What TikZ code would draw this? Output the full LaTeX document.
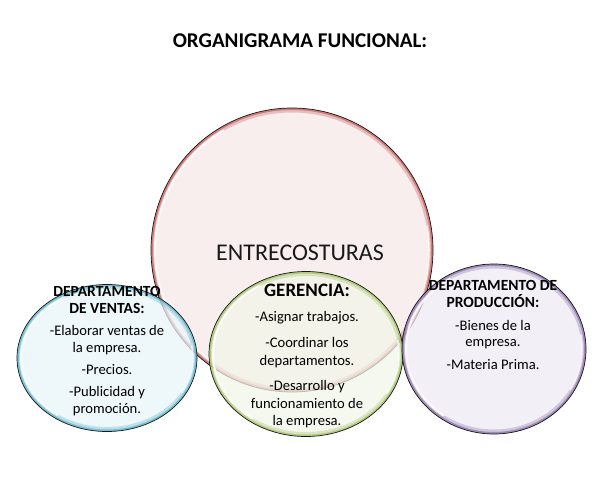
\documentclass[tikz,border=0pt]{standalone}
\usepackage{fontspec}
\setmainfont{Carlito}
\usetikzlibrary{shapes.geometric, calc}
\definecolor{rojo}{HTML}{C0504D}
\definecolor{azul}{HTML}{4BACC6}
\definecolor{verde}{HTML}{9BBB59}
\definecolor{morado}{HTML}{8064A2}
\tikzset{
bubble/.style={ellipse, inner sep=0pt, draw=black!90, line width=0.7pt, fill=#1!13, fill opacity=0.72,
  path picture={
    \draw[#1, line width=9pt, draw opacity=0.3] let \p1=(path picture bounding box.north east), \p2=(path picture bounding box.center) in (\p2) ellipse ({\x1-\x2} and {\y1-\y2});
    \draw[#1, line width=4pt, draw opacity=0.6] let \p1=(path picture bounding box.north east), \p2=(path picture bounding box.center) in (\p2) ellipse ({\x1-\x2} and {\y1-\y2});
    \draw[white, line width=2pt, draw opacity=0.9, line cap=round] let \p1=(path picture bounding box.north east), \p2=(path picture bounding box.center), \n1={(\x1-\x2)-4pt}, \n2={(\y1-\y2)-4pt} in (\p2) ++(120:\n1 and \n2) arc[start angle=120, end angle=235, x radius=\n1, y radius=\n2];
    \draw[white, line width=1.5pt, draw opacity=0.8, line cap=round] let \p1=(path picture bounding box.north east), \p2=(path picture bounding box.center), \n1={(\x1-\x2)-4pt}, \n2={(\y1-\y2)-4pt} in (\p2) ++(-30:\n1 and \n2) arc[start angle=-30, end angle=10, x radius=\n1, y radius=\n2];
  }}, % circle with coloured rim
txt/.style={align=center, text=black, font=\fontsize{14.6}{16.6}\selectfont},
}
\begin{document}
\begin{tikzpicture}[x=1pt, y=-1pt]
\fill[white] (0,0) rectangle (612,487);
\useasboundingbox (0,0) rectangle (612,487);

\node[font=\bfseries\fontsize{21}{24}\selectfont] (titulo) at (300,41) {ORGANIGRAMA FUNCIONAL:};

% circles
\node[bubble=rojo, minimum width=282pt, minimum height=284pt] (empresa) at (292,250) {};
\node[bubble=azul, minimum width=180pt, minimum height=147pt] (ventas) at (107,358) {};
\node[bubble=verde, minimum width=194pt, minimum height=165pt] (gerencia) at (306,354) {};
\node[bubble=morado, minimum width=184pt, minimum height=170pt] (produccion) at (494,349) {};

% texts
\node[font=\fontsize{24}{28}\selectfont, text=black!90] (nombre) at (300,253) {ENTRECOSTURAS};
\node[txt] (ventastxt) at (107,351) {{\bfseries\fontsize{15.5}{16.6}\selectfont DEPARTAMENTO}\\{\bfseries\fontsize{15.5}{16.6}\selectfont DE VENTAS:}\\[6pt]-Elaborar ventas de\\la empresa.\\[5pt]-Precios.\\[6pt]-Publicidad y\\promoción.};
\node[txt, font=\fontsize{14.6}{17.3}\selectfont] (gerenciatxt) at (307,356) {{\bfseries\fontsize{19}{20}\selectfont GERENCIA:}\\[8pt]-Asignar trabajos.\\[8.5pt]-Coordinar los\\departamentos.\\[8.5pt]-Desarrollo y\\funcionamiento de\\la empresa.};
\node[txt] (produccionttxt) at (493,325) {{\bfseries\fontsize{15.5}{16.6}\selectfont DEPARTAMENTO DE}\\{\bfseries\fontsize{15.5}{16.6}\selectfont PRODUCCIÓN:}\\[6pt]-Bienes de la\\empresa.\\[6pt]-Materia Prima.};
\end{tikzpicture}
\end{document}
